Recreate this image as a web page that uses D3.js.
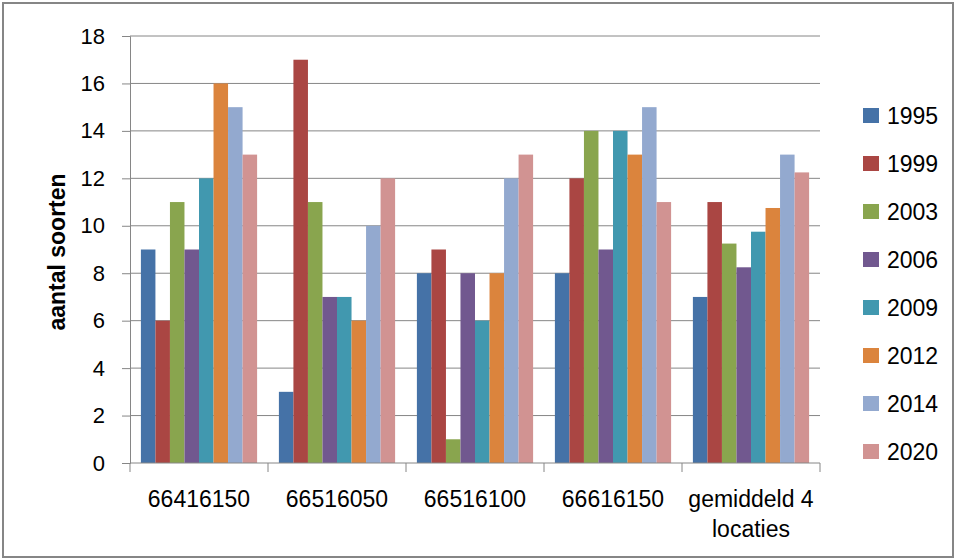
<!DOCTYPE html>
<html><head><meta charset="utf-8">
<script src="https://cdn.jsdelivr.net/npm/d3@7"></script>
<style>body{margin:0;background:#fff}</style>
</head><body>
<svg id="c" width="956" height="560"></svg>
<script>
const categories = ["66416150", "66516050", "66516100", "66616150", "gemiddeld 4 locaties"];
const years = ["1995", "1999", "2003", "2006", "2009", "2012", "2014", "2020"];
const s1995 = [9, 3, 8, 8, 7];
const s1999 = [6, 17, 9, 12, 11];
const s2003 = [11, 11, 1, 14, 9.25];
const s2006 = [9, 7, 8, 9, 8.25];
const s2009 = [12, 7, 6, 14, 9.75];
const s2012 = [16, 6, 8, 13, 10.75];
const s2014 = [15, 10, 12, 15, 13];
const s2020 = [13, 12, 13, 11, 12.25];
const yTicks = [0, 2, 4, 6, 8, 10, 12, 14, 16, 18];
const colors = ["#4572A7", "#AA4643", "#89A54E", "#71588F", "#4198AF", "#DB843D", "#93A9CF", "#D19392"];

(function () {
const series = [s1995, s1999, s2003, s2006, s2009, s2012, s2014, s2020];
const font = "'Liberation Sans', Arial, sans-serif";
const svg = d3.select("#c");
svg.append("rect").attr("x", 3).attr("y", 3).attr("width", 950).attr("height", 554)
  .attr("fill", "#fff").attr("stroke", "#868686").attr("stroke-width", 2);

const mLeft = 130, mRight = 820, mTop = 36, mBottom = 463;
const x0 = d3.scaleBand().domain(categories).range([mLeft, mRight]).paddingInner(0).paddingOuter(0);
const x1 = d3.scaleBand().domain(years).range([0, x0.bandwidth()]).paddingOuter(0.75).paddingInner(0);
const y = d3.scaleLinear().domain([0, 18]).range([mBottom, mTop]);

svg.append("g").selectAll("line").data(yTicks.filter(d => d > 0)).join("line")
  .attr("x1", mLeft).attr("x2", mRight).attr("y1", d => y(d)).attr("y2", d => y(d))
  .attr("stroke", "#868686").attr("stroke-width", 1);

const ya = svg.append("g").attr("transform", `translate(${mLeft},0)`)
  .call(d3.axisLeft(y).tickValues(yTicks).tickSize(8).tickPadding(17));
ya.select(".domain").attr("stroke", "#868686");
ya.selectAll(".tick line").attr("stroke", "#868686");
ya.selectAll("text").attr("font-family", font).attr("font-size", 22).attr("fill", "#000");

const g = svg.append("g");
categories.forEach((c, ci) => {
  years.forEach((yr, si) => {
    const v = series[si][ci];
    g.append("rect")
      .attr("x", x0(c) + x1(yr)).attr("width", x1.bandwidth())
      .attr("y", y(v)).attr("height", y(0) - y(v))
      .attr("fill", colors[si]);
  });
});

const xa = svg.append("g").attr("transform", `translate(0,${mBottom})`);
xa.append("line").attr("x1", mLeft).attr("x2", mRight).attr("stroke", "#868686");
const bounds = categories.map(c => x0(c)).concat([mRight]);
xa.selectAll("line.t").data(bounds).join("line").attr("class", "t")
  .attr("x1", d => d).attr("x2", d => d).attr("y1", 0).attr("y2", 9).attr("stroke", "#868686");
categories.forEach(c => {
  const cx = x0(c) + x0.bandwidth() / 2;
  const parts = c === "gemiddeld 4 locaties" ? ["gemiddeld 4", "locaties"] : [c];
  parts.forEach((p, i) => {
    xa.append("text").attr("x", cx).attr("y", 44 + i * 30).attr("text-anchor", "middle")
      .attr("font-family", font).attr("font-size", 23).attr("fill", "#000").text(p);
  });
});

svg.append("text").attr("transform", "translate(65,252) rotate(-90)").attr("text-anchor", "middle")
  .attr("font-family", font).attr("font-size", 23).attr("font-weight", "bold").text("aantal soorten");

const lg = svg.append("g");
years.forEach((yr, i) => {
  const cy = 115.5 + i * 48;
  lg.append("rect").attr("x", 863).attr("y", cy - 7.5).attr("width", 16).attr("height", 15).attr("fill", colors[i]);
  lg.append("text").attr("x", 887).attr("y", cy + 8).attr("font-family", font).attr("font-size", 23)
    .attr("fill", "#000").text(yr);
});
})();
</script>
</body></html>
